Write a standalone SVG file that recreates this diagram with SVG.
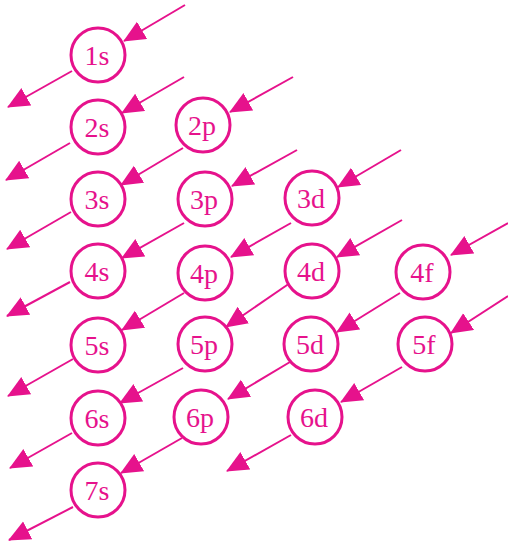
<svg xmlns="http://www.w3.org/2000/svg" width="508" height="545" viewBox="0 0 508 545">
<style>
.c{fill:#fff;stroke:#E6128C;stroke-width:3}
.t{font-family:"Liberation Serif","Times New Roman",serif;font-size:28px;fill:#E6128C;text-anchor:middle}
.a{stroke:#E6128C;stroke-width:2;fill:none;marker-end:url(#ah)}
</style>
<defs>
<marker id="ah" markerUnits="userSpaceOnUse" markerWidth="24" markerHeight="22" refX="21" refY="10" orient="auto">
<path d="M0,0 L22,10 L0,20 z" fill="#E6128C"/>
</marker>
</defs>
<rect width="508" height="545" fill="#fff"/>
<g id="connectors">
<line class="a" x1="185" y1="5" x2="124" y2="41"/>
<line class="a" x1="72" y1="71" x2="8" y2="107"/>
<line class="a" x1="184" y1="77" x2="122" y2="113"/>
<line class="a" x1="70" y1="143" x2="6" y2="180"/>
<line class="a" x1="293" y1="77" x2="230" y2="112"/>
<line class="a" x1="183" y1="148" x2="121" y2="185"/>
<line class="a" x1="71" y1="212" x2="7" y2="249"/>
<line class="a" x1="297" y1="150" x2="232" y2="186"/>
<line class="a" x1="184" y1="223" x2="122" y2="258"/>
<line class="a" x1="70" y1="282" x2="7" y2="316"/>
<line class="a" x1="401" y1="150" x2="338" y2="187"/>
<line class="a" x1="291" y1="223" x2="231" y2="257"/>
<line class="a" x1="184" y1="293" x2="122" y2="330"/>
<line class="a" x1="73" y1="359" x2="8" y2="396"/>
<line class="a" x1="402" y1="220" x2="337" y2="257"/>
<line class="a" x1="290" y1="283" x2="226" y2="327"/>
<line class="a" x1="183" y1="368" x2="120" y2="403"/>
<line class="a" x1="72" y1="433" x2="10" y2="468"/>
<line class="a" x1="508" y1="223" x2="451" y2="255"/>
<line class="a" x1="400" y1="293" x2="337" y2="332"/>
<line class="a" x1="290" y1="362" x2="228" y2="399"/>
<line class="a" x1="182" y1="438" x2="121" y2="473"/>
<line class="a" x1="73" y1="507" x2="9" y2="540"/>
<line class="a" x1="508" y1="296" x2="451" y2="333"/>
<line class="a" x1="402" y1="367" x2="341" y2="402"/>
<line class="a" x1="291" y1="435" x2="227" y2="471"/>
</g>
<g id="n1s"><circle class="c" cx="98" cy="55" r="27"/><text class="t" x="97" y="64.5">1s</text></g>
<g id="n2s"><circle class="c" cx="98" cy="127" r="27"/><text class="t" x="97" y="136.5">2s</text></g>
<g id="n2p"><circle class="c" cx="203" cy="125" r="27"/><text class="t" x="202" y="134.5">2p</text></g>
<g id="n3s"><circle class="c" cx="98" cy="199" r="27"/><text class="t" x="97" y="208.5">3s</text></g>
<g id="n3p"><circle class="c" cx="205" cy="199" r="27"/><text class="t" x="204" y="208.5">3p</text></g>
<g id="n3d"><circle class="c" cx="312" cy="198" r="27"/><text class="t" x="311" y="207.5">3d</text></g>
<g id="n4s"><circle class="c" cx="98" cy="271" r="27"/><text class="t" x="97" y="280.5">4s</text></g>
<g id="n4p"><circle class="c" cx="205" cy="273" r="27"/><text class="t" x="204" y="282.5">4p</text></g>
<g id="n4d"><circle class="c" cx="312" cy="271" r="27"/><text class="t" x="311" y="280.5">4d</text></g>
<g id="n4f"><circle class="c" cx="423" cy="272" r="27"/><text class="t" x="422" y="281.5">4f</text></g>
<g id="n5s"><circle class="c" cx="98" cy="345" r="27"/><text class="t" x="97" y="354.5">5s</text></g>
<g id="n5p"><circle class="c" cx="205" cy="344" r="27"/><text class="t" x="204" y="353.5">5p</text></g>
<g id="n5d"><circle class="c" cx="311" cy="344" r="27"/><text class="t" x="310" y="353.5">5d</text></g>
<g id="n5f"><circle class="c" cx="425" cy="344" r="27"/><text class="t" x="424" y="353.5">5f</text></g>
<g id="n6s"><circle class="c" cx="98" cy="418" r="27"/><text class="t" x="97" y="427.5">6s</text></g>
<g id="n6p"><circle class="c" cx="201" cy="417" r="27"/><text class="t" x="200" y="426.5">6p</text></g>
<g id="n6d"><circle class="c" cx="315" cy="417" r="27"/><text class="t" x="314" y="426.5">6d</text></g>
<g id="n7s"><circle class="c" cx="98" cy="490" r="27"/><text class="t" x="97" y="499.5">7s</text></g>
</svg>
